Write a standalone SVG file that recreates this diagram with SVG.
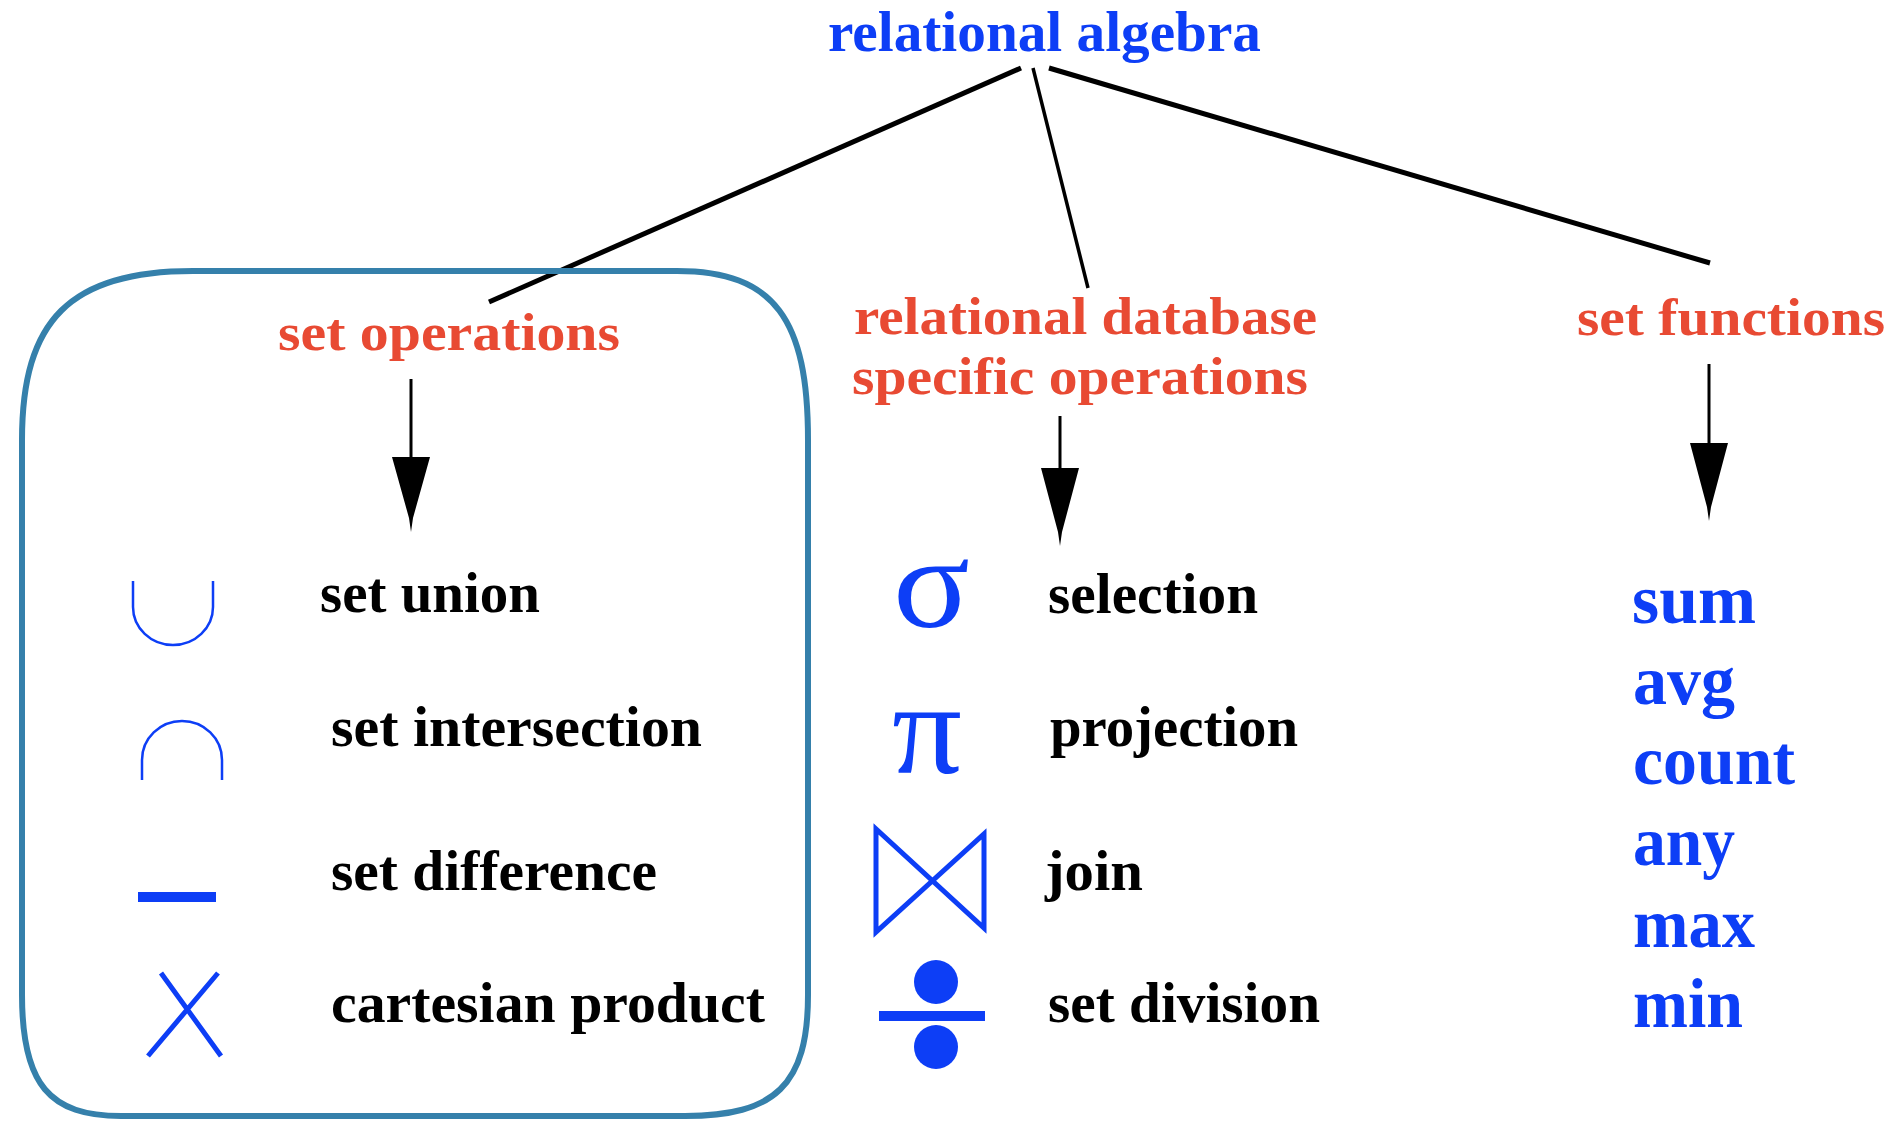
<svg xmlns="http://www.w3.org/2000/svg" width="1895" height="1121" viewBox="0 0 1895 1121">
<style>
text{font-family:"Liberation Serif","Times New Roman",serif;font-weight:bold;font-size:57px}
.blue{fill:#0d3ef6}
.red{fill:#e84a33;font-size:53px}
.blk{fill:#000}
.big{font-size:70px}
.greek{font-weight:normal;font-size:132px}
.ln{stroke:#000;fill:none}
.sym{stroke:#0d3ef6;fill:none}
.symf{fill:#0d3ef6}
</style>
<rect width="1895" height="1121" fill="#fff"/>
<g id="connectors">
<line class="ln" x1="1021" y1="68" x2="489" y2="302" stroke-width="5"/>
<line class="ln" x1="1033" y1="68" x2="1088" y2="288" stroke-width="3.5"/>
<line class="ln" x1="1049" y1="68" x2="1710" y2="263" stroke-width="5"/>
<line class="ln" x1="411" y1="379" x2="411" y2="470" stroke-width="3"/>
<path d="M392,457 L430,457 L413,518 L411,532 L409,518 Z" fill="#000"/>
<line class="ln" x1="1060" y1="416" x2="1060" y2="480" stroke-width="3"/>
<path d="M1041,468 L1079,468 L1062,532 L1060,546 L1058,532 Z" fill="#000"/>
<line class="ln" x1="1709" y1="364" x2="1709" y2="455" stroke-width="3"/>
<path d="M1690,443 L1728,443 L1711,507 L1709,521 L1707,507 Z" fill="#000"/>
</g>
<g id="group-box">
<path d="M193,271 L677,271 C775,271 808,320 808,440 L808,995 C808,1085 775,1116 685,1116 L121,1116 C50,1116 22,1085 22,995 L22,440 C22,320 70,271 193,271 Z" fill="none" stroke="#3580ab" stroke-width="6"/>
</g>
<g id="node-root"><text class="blue" x="828" y="51" style="font-size:56px" textLength="433" lengthAdjust="spacingAndGlyphs">relational algebra</text></g>
<g id="node-setops"><text class="red" x="278" y="350" textLength="342" lengthAdjust="spacingAndGlyphs">set operations</text></g>
<g id="node-relops">
<text class="red" x="854" y="334" textLength="463" lengthAdjust="spacingAndGlyphs">relational database</text>
<text class="red" x="852" y="394" textLength="456" lengthAdjust="spacingAndGlyphs">specific operations</text>
</g>
<g id="node-setfuncs"><text class="red" x="1577" y="335" textLength="308" lengthAdjust="spacingAndGlyphs">set functions</text></g>
<g id="node-union">
<path class="sym" stroke-width="2.5" d="M133,581 L133,607 A40,38 0 0 0 213,607 L213,581"/>
<text class="blk" x="320" y="612" textLength="220" lengthAdjust="spacingAndGlyphs">set union</text>
</g>
<g id="node-intersection">
<path class="sym" stroke-width="2.5" d="M142,780 L142,760 A40,39 0 0 1 222,760 L222,780"/>
<text class="blk" x="331" y="746" textLength="371" lengthAdjust="spacingAndGlyphs">set intersection</text>
</g>
<g id="node-difference">
<rect class="symf" x="138" y="892" width="78" height="10"/>
<text class="blk" x="331" y="890" textLength="326" lengthAdjust="spacingAndGlyphs">set difference</text>
</g>
<g id="node-cartesian">
<path class="sym" stroke-width="5" d="M161,973 L221,1056 M218,973 L148,1056"/>
<text class="blk" x="331" y="1022" textLength="434" lengthAdjust="spacingAndGlyphs">cartesian product</text>
</g>
<g id="node-selection">
<text class="blue greek" x="893" y="627" textLength="77" lengthAdjust="spacingAndGlyphs">σ</text>
<text class="blk" x="1048" y="613" textLength="210" lengthAdjust="spacingAndGlyphs">selection</text>
</g>
<g id="node-projection">
<text class="blue greek" x="892" y="773" textLength="70" lengthAdjust="spacingAndGlyphs">π</text>
<text class="blk" x="1050" y="746" textLength="248" lengthAdjust="spacingAndGlyphs">projection</text>
</g>
<g id="node-join">
<path class="sym" stroke-width="5" stroke-linejoin="miter" d="M876,829 L876,932 L984,834 L984,928 Z"/>
<text class="blk" x="1045" y="890" textLength="98" lengthAdjust="spacingAndGlyphs">join</text>
</g>
<g id="node-division">
<ellipse class="symf" cx="936" cy="982" rx="22" ry="22"/>
<rect class="symf" x="879" y="1011" width="106" height="10"/>
<ellipse class="symf" cx="936" cy="1047" rx="22" ry="22"/>
<text class="blk" x="1048" y="1022" textLength="272" lengthAdjust="spacingAndGlyphs">set division</text>
</g>
<g id="node-funcs">
<text class="blue big" x="1632" y="623" textLength="124" lengthAdjust="spacingAndGlyphs">sum</text>
<text class="blue big" x="1633" y="704" textLength="102" lengthAdjust="spacingAndGlyphs">avg</text>
<text class="blue big" x="1633" y="784" textLength="162" lengthAdjust="spacingAndGlyphs">count</text>
<text class="blue big" x="1633" y="865" textLength="102" lengthAdjust="spacingAndGlyphs">any</text>
<text class="blue big" x="1633" y="947" textLength="122" lengthAdjust="spacingAndGlyphs">max</text>
<text class="blue big" x="1633" y="1027" textLength="110" lengthAdjust="spacingAndGlyphs">min</text>
</g>
</svg>
